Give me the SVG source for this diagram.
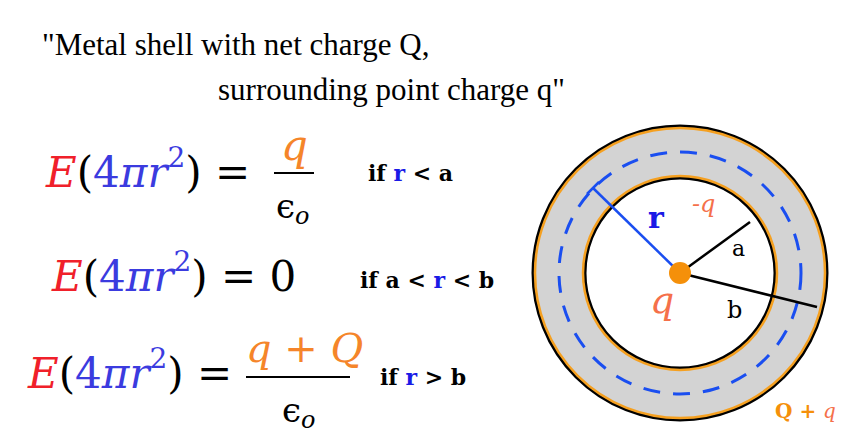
<svg xmlns="http://www.w3.org/2000/svg" width="864" height="442" viewBox="0 0 864 442">
<style>
.red{fill:#f0202a}
.blu{fill:#3b3bdf}
.org{fill:#f5852a}
.rb{fill:#1a1ae6}
</style>
<rect width="864" height="442" fill="#fff"/>
<g id="title" font-family="'Liberation Serif', serif" font-size="31">
<text x="42" y="55">"Metal shell with net charge Q,</text>
<text x="218" y="100">surrounding point charge q"</text>
</g>
<g id="eq1" font-family="'DejaVu Serif', serif">
<text x="46" y="187" font-size="42"><tspan class="red" font-style="italic">E</tspan><tspan>(</tspan><tspan class="blu">4</tspan><tspan class="blu" font-style="italic">πr</tspan><tspan class="blu" font-size="28" dy="-20">2</tspan><tspan dy="20">) =</tspan></text>
<text class="org" x="281" y="160" font-size="42" font-style="italic">q</text>
<line x1="274" y1="173" x2="314" y2="173" stroke="#000" stroke-width="2"/>
<text x="276" y="218" font-size="34">ϵ<tspan font-size="24" font-style="italic" dy="6">o</tspan></text>
<text x="368" y="181" font-size="22" font-weight="bold">if <tspan class="rb">r</tspan> &lt; a</text>
</g>
<g id="eq2" font-family="'DejaVu Serif', serif">
<text x="52" y="291" font-size="42"><tspan class="red" font-style="italic">E</tspan><tspan>(</tspan><tspan class="blu">4</tspan><tspan class="blu" font-style="italic">πr</tspan><tspan class="blu" font-size="28" dy="-20">2</tspan><tspan dy="20">) = 0</tspan></text>
<text x="360" y="288" font-size="22" font-weight="bold">if a &lt; <tspan class="rb">r</tspan> &lt; b</text>
</g>
<g id="eq3" font-family="'DejaVu Serif', serif">
<text x="28" y="388" font-size="42"><tspan class="red" font-style="italic">E</tspan><tspan>(</tspan><tspan class="blu">4</tspan><tspan class="blu" font-style="italic">πr</tspan><tspan class="blu" font-size="28" dy="-20">2</tspan><tspan dy="20">) =</tspan></text>
<text class="org" x="246" y="362" font-size="40" font-style="italic">q <tspan font-style="normal">+</tspan> Q</text>
<line x1="246" y1="377" x2="350" y2="377" stroke="#000" stroke-width="2"/>
<text x="282" y="422" font-size="34">ϵ<tspan font-size="24" font-style="italic" dy="6">o</tspan></text>
<text x="380" y="385" font-size="22" font-weight="bold">if <tspan class="rb">r</tspan> &gt; b</text>
</g>
<g id="shell">
<circle cx="680" cy="273" r="121" fill="none" stroke="#d3d3d3" stroke-width="52"/>
<circle cx="680" cy="273" r="147" fill="none" stroke="#000" stroke-width="3"/>
<circle cx="680" cy="273" r="145" fill="none" stroke="#f5a020" stroke-width="2.5"/>
<circle cx="680" cy="273" r="95" fill="none" stroke="#000" stroke-width="3"/>
<circle cx="680" cy="273" r="97" fill="none" stroke="#f5a020" stroke-width="2.5"/>
<circle cx="680" cy="273" r="121" fill="none" stroke="#1a4ef0" stroke-width="3" stroke-dasharray="17 13"/>
</g>
<g id="connectors">
<line x1="680" y1="273" x2="593" y2="188" stroke="#1a4ef0" stroke-width="2.5"/>
<line x1="587" y1="194" x2="599" y2="182" stroke="#1a4ef0" stroke-width="2.5"/>
<line x1="680" y1="273" x2="750" y2="222" stroke="#000" stroke-width="2.5"/>
<line x1="680" y1="273" x2="817" y2="307" stroke="#000" stroke-width="2.5"/>
</g>
<g id="charge">
<circle cx="680" cy="273" r="11" fill="#f5900a"/>
</g>
<g id="labels" font-family="'DejaVu Serif', serif">
<text x="648" y="228" font-size="30" font-weight="bold" fill="#1a1ae6">r</text>
<text x="692" y="212" font-size="24" font-style="italic" fill="#f5704a">-q</text>
<text x="732" y="256" font-size="22">a</text>
<text x="727" y="318" font-size="24">b</text>
<text x="650" y="313" font-size="38" font-style="italic" fill="#f5704a">q</text>
<text x="775" y="418" font-size="20" font-weight="bold" fill="#f5900a">Q + <tspan font-style="italic" font-weight="normal" fill="#f5704a">q</tspan></text>
</g>
</svg>
